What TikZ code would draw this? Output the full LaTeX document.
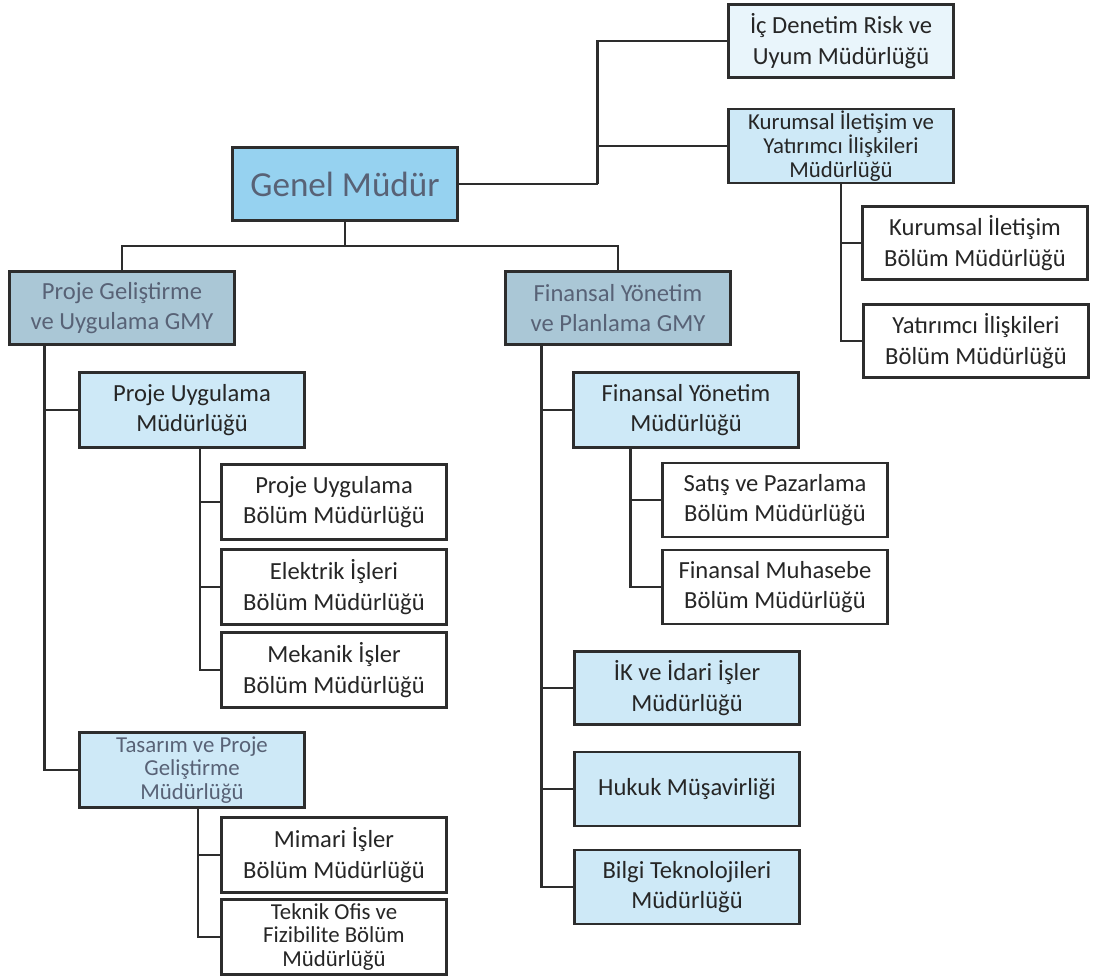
\documentclass[tikz,border=0pt]{standalone}
\usepackage{fontspec}
\setmainfont{Carlito}
\usepackage{tikz}
\usetikzlibrary{calc,positioning}
\definecolor{gmblue}{RGB}{150,210,240}
\definecolor{gmyblue}{RGB}{170,199,214}
\definecolor{mudblue}{RGB}{206,233,247}
\definecolor{txtgray}{RGB}{88,98,118}
\definecolor{linegray}{RGB}{45,45,45}
\tikzset{
	unit/.style={draw=linegray,line width=1.2pt,minimum width=4.5cm,minimum height=1.5cm,
		align=center,inner sep=1pt,font=\fontsize{14}{17.5}\selectfont,text=black!85},
	bolum/.style={unit,fill=white},
	mudurluk/.style={unit,fill=mudblue},
	gmy/.style={unit,fill=gmyblue,text=txtgray},
	gmbox/.style={unit,fill=gmblue,text=txtgray,minimum height=1.46cm,font=\fontsize{20}{24}\selectfont},
	threeline/.style={font=\fontsize{13}{13.6}\selectfont},
	link/.style={draw=linegray,line width=1.2pt}
}

\begin{document}
\begin{tikzpicture}[x=0.02cm,y=-0.02cm]
			\useasboundingbox (0,0) rectangle (1096,978);
			% genel mudur and staff units
			\node[gmbox] (gm) at (345,184) {Genel Müdür};
			\node[mudurluk,fill=mudblue!45,minimum height=1.46cm] (ic) at (841,41) {İç Denetim Risk ve\\Uyum Müdürlüğü};
			\node[mudurluk,threeline,minimum height=1.46cm] (kur) at (841,146) {Kurumsal İletişim ve\\Yatırımcı İlişkileri\\Müdürlüğü};
			\node[bolum,minimum height=1.46cm] (kurb) at (975,243) {Kurumsal İletişim\\Bölüm Müdürlüğü};
			\node[bolum,minimum height=1.46cm] (yat) at (976,341) {Yatırımcı İlişkileri\\Bölüm Müdürlüğü};
			% gmy
			\node[gmy,minimum height=1.46cm] (pgmy) at (122,308) {Proje Geliştirme\\ve Uygulama GMY};
			\node[gmy,minimum height=1.46cm] (fgmy) at (618,308) {Finansal Yönetim\\ve Planlama GMY};
			% proje side
			\node[mudurluk] (pum) at (192,410) {Proje Uygulama\\Müdürlüğü};
			\node[bolum] (pub) at (334,502) {Proje Uygulama\\Bölüm Müdürlüğü};
			\node[bolum] (elk) at (334,587) {Elektrik İşleri\\Bölüm Müdürlüğü};
			\node[bolum] (mek) at (334,670) {Mekanik İşler\\Bölüm Müdürlüğü};
			\node[mudurluk,threeline,text=txtgray] (tpg) at (192,770) {Tasarım ve Proje\\Geliştirme\\Müdürlüğü};
			\node[bolum] (mim) at (334,855) {Mimari İşler\\Bölüm Müdürlüğü};
			\node[bolum,threeline] (tek) at (334,937) {Teknik Ofis ve\\Fizibilite Bölüm\\Müdürlüğü};
			% finans side
			\node[mudurluk] (fym) at (686,410) {Finansal Yönetim\\Müdürlüğü};
			\node[bolum,minimum height=1.48cm] (sat) at (775,500) {Satış ve Pazarlama\\Bölüm Müdürlüğü};
			\node[bolum,minimum height=1.48cm] (muh) at (775,587) {Finansal Muhasebe\\Bölüm Müdürlüğü};
			\node[mudurluk,minimum height=1.46cm] (ik) at (687,688) {İK ve İdari İşler\\Müdürlüğü};
			\node[mudurluk,minimum height=1.48cm] (huk) at (687,789) {Hukuk Müşavirliği};
			\node[mudurluk,minimum height=1.48cm] (bt) at (687,887) {Bilgi Teknolojileri\\Müdürlüğü};

			\draw[link] (gm.east) -- ++(139,0) coordinate (sj);
			\draw[link] (ic.west) -| (sj);
			\draw[link] (kur.west) -| (sj);
			\draw[link] (kur.south) |- (kurb.west);
			\draw[link] (kur.south) |- (yat.west);
			\draw[link] (gm.south) -- ++(0,24) coordinate (gj);
			\draw[link] (gj) -| (pgmy.north);
			\draw[link] (gj) -| (fgmy.north);
			\coordinate (pt) at ($(pgmy.south west)+(36,0)$);
			\draw[link] (pt) |- (pum.west);
			\draw[link] (pt) |- (tpg.west);
			\coordinate (pumt) at ($(pum.south)+(8,0)$);
			\draw[link] (pumt) |- (pub.west);
			\draw[link] (pumt) |- (elk.west);
			\draw[link] (pumt) |- (mek.west);
			\coordinate (tpgt) at ($(tpg.south)+(6,0)$);
			\draw[link] (tpgt) |- (mim.west);
			\draw[link] (tpgt) |- (tek.west);
			\coordinate (ft) at ($(fgmy.south west)+(37,0)$);
			\draw[link] (ft) |- (fym.west);
			\draw[link] (ft) |- (ik.west);
			\draw[link] (ft) |- (huk.west);
			\draw[link] (ft) |- (bt.west);
			\coordinate (fymt) at ($(fym.south west)+(58,0)$);
			\draw[link] (fymt) |- (sat.west);
			\draw[link] (fymt) |- (muh.west);
			%\draw[link,dashed] (pgmy) -- (fgmy);
		\end{tikzpicture}
\end{document}
